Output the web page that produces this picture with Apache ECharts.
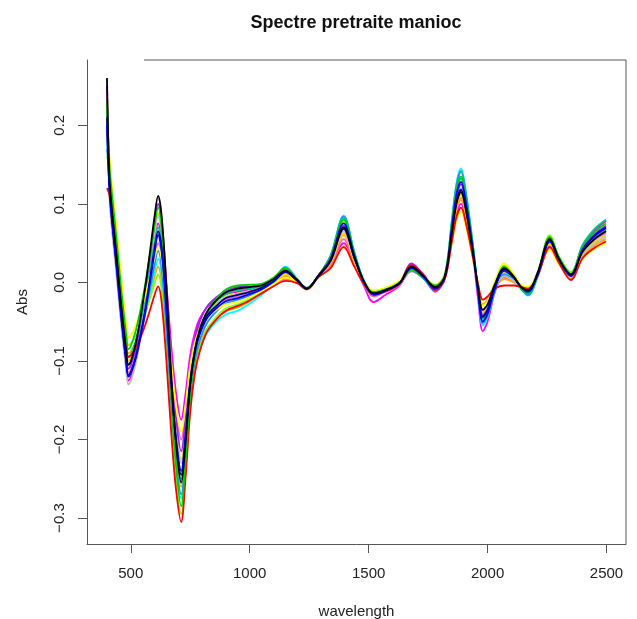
<!DOCTYPE html>
<html>
<head>
<meta charset="utf-8">
<script src="https://cdn.jsdelivr.net/npm/echarts@6/dist/echarts.min.js"></script>
<style>
html,body{margin:0;padding:0;background:#fff;}
#chart{width:637px;height:619px;}
</style>
</head>
<body>
<div id="chart"></div>
<script>
const wavelengths = [400,410,420,440,460,480,490,500,520,540,
  560,580,600,615,630,650,670,690,712,730,
  750,770,790,820,860,900,950,1000,1050,1100,
  1150,1200,1240,1290,1340,1395,1440,1480,1520,1570,
  1630,1680,1730,1780,1820,1850,1870,1888,1910,1940,
  1960,1980,2000,2030,2070,2110,2140,2170,2210,2262,
  2300,2350,2400,2450,2498];

const spec01 = [0.260,0.135,0.095,0.035,-0.030,-0.085,-0.105,-0.101,-0.079,-0.047,
  -0.008,0.037,0.084,0.110,0.084,-0.007,-0.116,-0.204,-0.255,-0.206,
  -0.129,-0.085,-0.060,-0.038,-0.023,-0.013,-0.008,-0.006,-0.004,0.004,
  0.015,0.003,-0.008,0.009,0.028,0.070,0.032,0.001,-0.014,-0.010,
  -0.001,0.020,0.008,-0.006,0.007,0.063,0.101,0.115,0.090,0.035,
  -0.006,-0.035,-0.028,-0.003,0.018,0.007,-0.006,-0.010,0.012,0.055,
  0.030,0.010,0.039,0.055,0.065];
const spec02 = [0.120,0.112,0.095,0.040,-0.020,-0.075,-0.095,-0.093,-0.084,-0.071,
  -0.055,-0.036,-0.016,-0.005,-0.026,-0.101,-0.191,-0.263,-0.305,-0.250,
  -0.165,-0.115,-0.088,-0.063,-0.047,-0.036,-0.030,-0.023,-0.014,-0.005,
  0.002,-0.001,-0.009,0.007,0.018,0.045,0.020,-0.002,-0.015,-0.012,
  -0.002,0.022,0.010,-0.010,0.004,0.052,0.084,0.095,0.074,0.029,
  -0.002,-0.022,-0.018,-0.008,-0.004,-0.004,-0.006,-0.008,0.008,0.045,
  0.025,0.003,0.031,0.044,0.052];
const spec03 = [0.230,0.150,0.115,0.055,-0.010,-0.065,-0.085,-0.081,-0.063,-0.036,
  -0.004,0.034,0.073,0.095,0.068,-0.027,-0.141,-0.232,-0.285,-0.229,
  -0.142,-0.091,-0.063,-0.038,-0.021,-0.009,-0.004,-0.003,-0.002,0.006,
  0.018,0.003,-0.007,0.009,0.032,0.080,0.036,0.002,-0.013,-0.009,
  0.000,0.016,0.006,-0.004,0.009,0.074,0.119,0.135,0.105,0.041,
  -0.009,-0.045,-0.036,-0.006,0.020,0.008,-0.007,-0.014,0.010,0.058,
  0.032,0.011,0.045,0.064,0.075];
const spec04 = [0.200,0.122,0.082,0.020,-0.045,-0.100,-0.120,-0.116,-0.098,-0.071,
  -0.039,-0.001,0.038,0.060,0.039,-0.036,-0.126,-0.198,-0.240,-0.196,
  -0.128,-0.088,-0.066,-0.046,-0.033,-0.024,-0.020,-0.015,-0.009,0.001,
  0.014,0.002,-0.008,0.009,0.030,0.075,0.034,0.001,-0.016,-0.011,
  -0.001,0.018,0.007,-0.008,0.006,0.070,0.113,0.128,0.100,0.038,
  -0.012,-0.050,-0.040,-0.009,0.015,0.006,-0.006,-0.012,0.009,0.052,
  0.029,0.008,0.042,0.060,0.070];
const spec05 = [0.180,0.140,0.100,0.040,-0.025,-0.080,-0.100,-0.097,-0.084,-0.065,
  -0.042,-0.014,0.014,0.030,0.009,-0.068,-0.159,-0.232,-0.275,-0.227,
  -0.153,-0.110,-0.086,-0.065,-0.050,-0.041,-0.036,-0.027,-0.016,0.000,
  0.020,0.004,-0.008,0.009,0.034,0.085,0.038,0.002,-0.012,-0.008,
  0.001,0.015,0.005,-0.011,0.008,0.080,0.128,0.145,0.113,0.044,
  -0.013,-0.055,-0.044,-0.012,0.010,0.003,-0.008,-0.017,0.006,0.050,
  0.028,0.010,0.036,0.051,0.060];
const spec06 = [0.240,0.118,0.075,0.015,-0.050,-0.105,-0.125,-0.121,-0.101,-0.071,
  -0.035,0.007,0.051,0.075,0.058,-0.005,-0.080,-0.140,-0.175,-0.142,
  -0.092,-0.063,-0.046,-0.032,-0.022,-0.015,-0.012,-0.009,-0.005,0.001,
  0.010,0.001,-0.008,0.008,0.020,0.050,0.022,-0.004,-0.025,-0.016,
  -0.004,0.020,0.009,-0.012,0.005,0.055,0.088,0.100,0.078,0.030,
  -0.021,-0.062,-0.050,-0.013,0.014,0.005,-0.006,-0.011,0.011,0.048,
  0.026,0.011,0.047,0.066,0.078];
const spec07 = [0.210,0.160,0.125,0.068,0.004,-0.052,-0.070,-0.068,-0.056,-0.039,
  -0.018,0.006,0.031,0.045,0.029,-0.030,-0.101,-0.157,-0.190,-0.157,
  -0.106,-0.076,-0.060,-0.045,-0.035,-0.028,-0.025,-0.019,-0.011,-0.003,
  0.006,0.000,-0.008,0.007,0.018,0.046,0.021,0.000,-0.010,-0.007,
  0.002,0.016,0.008,-0.003,0.010,0.050,0.079,0.090,0.070,0.027,
  -0.006,-0.030,-0.024,0.001,0.024,0.010,-0.003,-0.006,0.012,0.042,
  0.023,0.012,0.030,0.043,0.050];
const spec08 = [0.220,0.110,0.070,0.010,-0.055,-0.110,-0.130,-0.126,-0.104,-0.072,
  -0.033,0.012,0.059,0.085,0.063,-0.016,-0.110,-0.186,-0.230,-0.187,
  -0.120,-0.082,-0.060,-0.041,-0.028,-0.019,-0.015,-0.011,-0.007,0.001,
  0.012,0.002,-0.008,0.008,0.026,0.065,0.029,0.000,-0.015,-0.010,
  -0.001,0.019,0.008,-0.007,0.007,0.066,0.106,0.120,0.094,0.036,
  -0.008,-0.040,-0.032,-0.009,0.008,0.002,-0.007,-0.011,0.008,0.046,
  0.025,0.007,0.035,0.049,0.058];
const spec09 = [0.190,0.148,0.110,0.050,-0.015,-0.070,-0.090,-0.088,-0.077,-0.060,
  -0.041,-0.017,0.007,0.020,0.000,-0.070,-0.154,-0.221,-0.260,-0.214,
  -0.144,-0.103,-0.080,-0.059,-0.046,-0.037,-0.032,-0.024,-0.014,-0.004,
  0.008,0.000,-0.009,0.008,0.024,0.060,0.027,-0.001,-0.016,-0.011,
  -0.002,0.021,0.009,-0.009,0.005,0.059,0.095,0.108,0.084,0.032,
  -0.003,-0.028,-0.022,-0.007,0.004,0.000,-0.006,-0.009,0.010,0.044,
  0.024,0.005,0.033,0.047,0.055];
const spec10 = [0.250,0.130,0.090,0.030,-0.035,-0.090,-0.110,-0.106,-0.085,-0.053,
  -0.016,0.029,0.075,0.100,0.078,-0.001,-0.095,-0.171,-0.215,-0.173,
  -0.108,-0.071,-0.050,-0.031,-0.019,-0.011,-0.006,-0.005,-0.003,0.004,
  0.016,0.003,-0.007,0.009,0.029,0.072,0.032,0.001,-0.013,-0.009,
  0.000,0.024,0.010,-0.005,0.008,0.069,0.110,0.125,0.098,0.038,
  -0.009,-0.042,-0.034,-0.006,0.016,0.006,-0.005,-0.010,0.011,0.056,
  0.031,0.010,0.043,0.061,0.072];
const spec11 = [0.160,0.150,0.118,0.060,-0.005,-0.060,-0.080,-0.078,-0.069,-0.056,
  -0.040,-0.021,-0.001,0.010,-0.011,-0.088,-0.179,-0.252,-0.295,-0.242,
  -0.159,-0.111,-0.084,-0.060,-0.044,-0.033,-0.028,-0.021,-0.013,-0.001,
  0.012,0.002,-0.008,0.009,0.031,0.078,0.035,0.002,-0.012,-0.008,
  0.001,0.017,0.006,-0.004,0.010,0.077,0.123,0.140,0.109,0.042,
  -0.010,-0.048,-0.038,-0.010,0.012,0.004,-0.007,-0.013,0.012,0.060,
  0.033,0.013,0.041,0.058,0.068];
const spec12 = [0.230,0.125,0.085,0.025,-0.040,-0.095,-0.115,-0.112,-0.095,-0.070,
  -0.041,-0.006,0.030,0.050,0.033,-0.030,-0.105,-0.165,-0.200,-0.164,
  -0.107,-0.074,-0.056,-0.040,-0.029,-0.022,-0.018,-0.014,-0.008,-0.002,
  0.004,-0.001,-0.009,0.008,0.022,0.055,0.025,-0.002,-0.018,-0.012,
  -0.003,0.014,0.006,-0.010,0.004,0.058,0.092,0.105,0.082,0.032,
  -0.008,-0.036,-0.029,-0.008,0.006,0.001,-0.006,-0.010,0.009,0.050,
  0.028,0.008,0.038,0.054,0.063];
const spec13 = [0.220,0.142,0.105,0.045,-0.020,-0.075,-0.095,-0.092,-0.075,-0.050,
  -0.021,0.014,0.050,0.070,0.048,-0.032,-0.128,-0.205,-0.250,-0.202,
  -0.128,-0.084,-0.060,-0.039,-0.024,-0.015,-0.010,-0.008,-0.005,0.004,
  0.016,0.003,-0.007,0.009,0.033,0.082,0.037,0.002,-0.013,-0.009,
  0.000,0.019,0.007,-0.006,0.008,0.073,0.116,0.132,0.103,0.040,
  -0.010,-0.046,-0.037,-0.006,0.020,0.008,-0.005,-0.012,0.011,0.054,
  0.030,0.012,0.048,0.068,0.080];
const spec14 = [0.170,0.135,0.095,0.035,-0.030,-0.085,-0.105,-0.102,-0.088,-0.066,
  -0.040,-0.009,0.023,0.040,0.018,-0.059,-0.152,-0.227,-0.270,-0.220,
  -0.144,-0.099,-0.074,-0.052,-0.037,-0.027,-0.022,-0.017,-0.010,0.002,
  0.019,0.004,-0.008,0.009,0.034,0.084,0.038,0.002,-0.012,-0.008,
  0.001,0.015,0.005,-0.011,0.007,0.078,0.125,0.142,0.111,0.043,
  -0.012,-0.052,-0.042,-0.012,0.010,0.003,-0.008,-0.016,0.008,0.057,
  0.031,0.009,0.040,0.056,0.066];
const spec15 = [0.240,0.138,0.100,0.040,-0.025,-0.080,-0.100,-0.096,-0.077,-0.049,
  -0.015,0.024,0.065,0.088,0.066,-0.012,-0.106,-0.181,-0.225,-0.183,
  -0.117,-0.079,-0.058,-0.039,-0.027,-0.018,-0.014,-0.011,-0.006,0.001,
  0.010,0.001,-0.008,0.008,0.025,0.062,0.028,0.000,-0.014,-0.010,
  -0.001,0.022,0.009,-0.008,0.006,0.062,0.099,0.112,0.087,0.034,
  -0.008,-0.038,-0.030,-0.003,0.022,0.009,-0.004,-0.008,0.010,0.048,
  0.026,0.009,0.036,0.051,0.060];
const spec16 = [0.210,0.122,0.082,0.022,-0.043,-0.098,-0.118,-0.114,-0.096,-0.069,
  -0.036,0.003,0.043,0.065,0.043,-0.034,-0.127,-0.202,-0.245,-0.199,
  -0.128,-0.087,-0.064,-0.043,-0.030,-0.020,-0.016,-0.012,-0.007,0.001,
  0.013,0.002,-0.008,0.008,0.027,0.068,0.031,0.001,-0.014,-0.010,
  -0.001,0.020,0.008,-0.007,0.007,0.065,0.104,0.118,0.092,0.035,
  -0.010,-0.044,-0.035,-0.006,0.017,0.007,-0.005,-0.011,0.010,0.053,
  0.029,0.009,0.041,0.059,0.069];

const xTicks = [500, 1000, 1500, 2000, 2500];
const yTicks = [-0.3, -0.2, -0.1, 0.0, 0.1, 0.2];

const lineColors = ['#FF00FF','#FF69B4','#FFA500','#00FFFF','#7FFF00','#1E90FF',
  '#FFD700','#BEBEBE','#A020F0','#00C78C','#FFFF00','#FF0000','#00CD00','#000080','#0000FF','#000000'];
const spectra = [spec06, spec12, spec09, spec05, spec11, spec14,
  spec15, spec08, spec10, spec13, spec07, spec02, spec03, spec16, spec04, spec01];

const chart = echarts.init(document.getElementById('chart'), null, {renderer: 'canvas'});
const axisCol = '#555';
const textCol = '#222';
const fontFam = '"Liberation Sans", Arial, Helvetica, sans-serif';

const series = spectra.map((vals, i) => ({
  type: 'line',
  data: wavelengths.map((w, k) => [w, vals[k]]),
  showSymbol: false,
  smooth: 0.35,
  lineStyle: {color: lineColors[i], width: 1.8},
  itemStyle: {color: lineColors[i]},
  silent: true
}));

chart.setOption({
  animation: false,
  backgroundColor: '#ffffff',
  title: {
    text: 'Spectre pretraite manioc',
    left: 351, top: 9, textAlign: 'center',
    textStyle: {fontFamily: fontFam, fontSize: 18, fontWeight: 'bold', color: '#111'}
  },
  grid: {left: 87, right: 11, top: 60, bottom: 75, containLabel: false, outerBoundsMode: 'none'},
  xAxis: {
    type: 'value', min: 316, max: 2582,
    name: 'wavelength', nameLocation: 'middle', nameGap: 60,
    nameTextStyle: {fontFamily: fontFam, fontSize: 15, color: textCol},
    axisLine: {show: true, onZero: false, lineStyle: {color: axisCol, width: 1}},
    axisTick: {show: true, length: 9, customValues: xTicks, lineStyle: {color: axisCol}},
    axisLabel: {customValues: xTicks, margin: 22, fontFamily: fontFam, fontSize: 15, color: textCol,
      formatter: v => String(v)},
    splitLine: {show: false}
  },
  yAxis: {
    type: 'value', min: -0.333, max: 0.283,
    name: 'Abs', nameLocation: 'middle', nameGap: 57,
    nameTextStyle: {fontFamily: fontFam, fontSize: 15, color: textCol},
    axisLine: {show: true, onZero: false, lineStyle: {color: axisCol, width: 1}},
    axisTick: {show: true, length: 9, customValues: yTicks, lineStyle: {color: axisCol}},
    axisLabel: {
      customValues: yTicks, rotate: 90, margin: 20,
      fontFamily: fontFam, fontSize: 15, color: textCol,
      formatter: v => (v < 0 ? '\u2212' : '') + Math.abs(v).toFixed(1)
    },
    splitLine: {show: false}
  },
  graphic: [
    {type: 'line', shape: {x1: 144, y1: 60, x2: 626, y2: 60}, style: {stroke: axisCol, lineWidth: 1}, silent: true},
    {type: 'line', shape: {x1: 626, y1: 60, x2: 626, y2: 544}, style: {stroke: axisCol, lineWidth: 1}, silent: true}
  ],
  series: series
});
</script>
</body>
</html>
